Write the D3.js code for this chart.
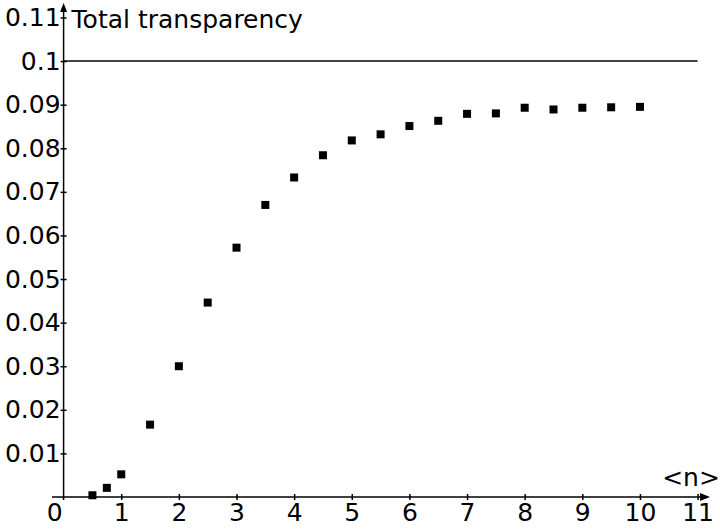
<!DOCTYPE html>
<html>
<head>
<meta charset="utf-8">
<script src="https://cdn.jsdelivr.net/npm/d3@7"></script>
<style>
  html, body { margin: 0; padding: 0; background: #fff; }
  svg { display: block; }
  text { font-family: "DejaVu Sans", Verdana, sans-serif; fill: #000; }
</style>
</head>
<body>
<svg id="chart" width="720" height="529"></svg>
<script>
// Mean photon count <n> against the total transparency
const nValues = [0.5, 0.75, 1, 1.5, 2, 2.5, 3, 3.5, 4, 4.5, 5, 5.5, 6, 6.5, 7, 7.5, 8, 8.5, 9, 9.5, 10];
const transparency = [0.0004, 0.0021, 0.0052, 0.0166, 0.0300, 0.0446, 0.0572, 0.0670, 0.0733, 0.0784, 0.0818, 0.0832, 0.0851, 0.0863, 0.0879, 0.0880, 0.0893, 0.0889, 0.0893, 0.0894, 0.0895];
const limitValue = 0.1;
const xTicks = [1, 2, 3, 4, 5, 6, 7, 8, 9, 10, 11];
const yTicks = [0.01, 0.02, 0.03, 0.04, 0.05, 0.06, 0.07, 0.08, 0.09, 0.1, 0.11];
const xTitle = "<n>";
const yTitle = "Total transparency";

const svg = d3.select("#chart");
const x = d3.scaleLinear().domain([0, 11]).range([63.6, 697.6]);
const y = d3.scaleLinear().domain([0, 0.11]).range([497, 17.5]);
const fontSize = 25;
const fontFamily = "'DejaVu Sans', Verdana, sans-serif";

// Horizontal limit line
svg.append("line")
  .attr("x1", x(0)).attr("x2", x(11))
  .attr("y1", y(limitValue)).attr("y2", y(limitValue))
  .attr("stroke", "#444").attr("stroke-width", 2);

// X axis
const xAxis = d3.axisBottom(x).tickValues(xTicks).tickSize(0).tickPadding(5)
  .tickFormat(d3.format("d"));
const gx = svg.append("g").attr("transform", `translate(0,${y(0)})`).call(xAxis);
gx.select(".domain").remove();
gx.selectAll(".tick text").attr("font-size", fontSize).attr("dy", "0.75em")
  .style("font-family", fontFamily);
gx.selectAll(".tick").append("line")
  .attr("y1", -3).attr("y2", 3).attr("stroke", "#000").attr("stroke-width", 1.5);
svg.append("line")
  .attr("x1", 52).attr("x2", 704).attr("y1", y(0)).attr("y2", y(0))
  .attr("stroke", "#000").attr("stroke-width", 1.5);
svg.append("path")
  .attr("d", `M710,${y(0)} L700,${y(0) - 4} L700,${y(0) + 4} Z`)
  .attr("fill", "#000");
svg.append("text")
  .attr("x", x(0) - 9).attr("y", y(0) + 5).attr("dy", "0.75em")
  .attr("text-anchor", "middle").attr("font-size", fontSize).text("0");

// Y axis
const yAxis = d3.axisLeft(y).tickValues(yTicks).tickSize(0).tickPadding(3)
  .tickFormat(d => String(+d.toFixed(2)));
const gy = svg.append("g").attr("transform", `translate(${x(0)},0)`).call(yAxis);
gy.select(".domain").remove();
gy.selectAll(".tick text").attr("font-size", fontSize)
  .style("font-family", fontFamily);
gy.selectAll(".tick").append("line")
  .attr("x1", -3).attr("x2", 3).attr("stroke", "#000").attr("stroke-width", 1.5);
svg.append("line")
  .attr("x1", x(0)).attr("x2", x(0)).attr("y1", 500).attr("y2", 10)
  .attr("stroke", "#000").attr("stroke-width", 1.5);
svg.append("path")
  .attr("d", `M${x(0)},3 L${x(0) - 3.5},12 L${x(0) + 3.5},12 Z`)
  .attr("fill", "#000");

// Axis titles
svg.append("text")
  .attr("x", x(0) + 8).attr("y", 28)
  .attr("font-size", fontSize).text(yTitle);
svg.append("text")
  .attr("x", 691).attr("y", 486)
  .attr("text-anchor", "middle").attr("font-size", fontSize).text(xTitle);

// Data points
const pts = nValues.map((n, i) => ({ n, t: transparency[i] }));
svg.append("g").selectAll("rect").data(pts).join("rect")
  .attr("x", d => x(d.n) - 4).attr("y", d => y(d.t) - 4)
  .attr("width", 8).attr("height", 8).attr("fill", "#000");
</script>
</body>
</html>
